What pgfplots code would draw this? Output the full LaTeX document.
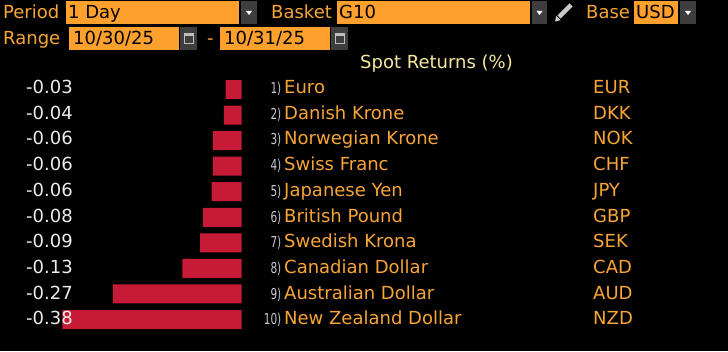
\documentclass[border=0pt]{standalone}
\usepackage{pgfplots}
\pgfplotsset{compat=1.18}
\usepackage{fontspec}
\setmainfont{DejaVu Sans}
\newfontfamily\condfont{DejaVu Sans}[FakeStretch=0.7]
\definecolor{bbBox}{RGB}{253,160,45}
\definecolor{bbText}{RGB}{247,165,55}
\definecolor{bbVal}{RGB}{236,236,236}
\definecolor{bbIdx}{RGB}{200,200,210}
\definecolor{bbTitle}{RGB}{246,232,160}
\definecolor{bbBar}{RGB}{198,26,54}
\definecolor{bbDrop}{RGB}{62,62,62}
\begin{document}
\begin{tikzpicture}
\path[use as bounding box] (0,0) rectangle (728pt,351pt);
\fill[black] (0,0) rectangle (728pt,351pt);
\begin{axis}[
  at={(0,0)}, anchor=south west,
  scale only axis, width=728pt, height=351pt,
  xmin=-0.5123, xmax=1.0307,
  ymin=-2.502, ymax=11.232, y dir=reverse,
  hide axis, clip=false]
\addplot[xbar, fill=bbBar, draw=none, bar width=0.7435] coordinates {
(-0.034,1) (-0.038,2) (-0.061,3) (-0.061,4) (-0.064,5)
(-0.082,6) (-0.088,7) (-0.126,8) (-0.273,9) (-0.380,10)};
\end{axis}
\begin{scope}[x=1pt,y=-1pt,yshift=351pt,every node/.style={inner sep=0pt,font=\fontsize{18}{20}\selectfont}]
% top row
\node[anchor=base west,text=bbText] at (3,18.5) {Period};
\fill[bbBox] (66,1) rectangle (239,24);
\node[anchor=base west,text=black] at (68,18.5) {1 Day};
\fill[bbDrop] (241,1) rectangle (257,24);
\fill[white] (246,11) -- (252,11) -- (249,15) -- cycle;
\node[anchor=base west,text=bbText] at (271,18.5) {Basket};
\fill[bbBox] (337,1) rectangle (530,24);
\node[anchor=base west,text=black] at (339,18.5) {G10};
\fill[bbDrop] (532,1) rectangle (547,24);
\fill[white] (536.5,11) -- (542.5,11) -- (539.5,15) -- cycle;
\draw[line width=4.5pt,color=lightgray!85!white] (559,17) -- (571,5);
\fill[lightgray!85!white] (555,21.5) -- (556.2,15.8) -- (560.6,20.2) -- cycle;
\node[anchor=base west,text=bbText] at (586,18.5) {Base};
\fill[bbBox] (634,1) rectangle (678,24);
\node[anchor=base west,text=black] at (636,18.5) {USD};
\fill[bbDrop] (680,1) rectangle (696,24);
\fill[white] (685,11) -- (691,11) -- (688,15) -- cycle;
% second row
\node[anchor=base west,text=bbText] at (3,45) {Range};
\fill[bbBox] (69,27) rectangle (179,50);
\node[anchor=base west,text=black] at (73,45) {10/30/25};
\fill[bbDrop] (180,27) rectangle (197,50);
\draw[lightgray,line width=1pt] (184,33.5) rectangle (193,44);
\fill[lightgray] (184,33.5) rectangle (193,36.5);
\node[anchor=base west,text=bbText] at (207,45) {-};
\fill[bbBox] (220,27) rectangle (330,50);
\node[anchor=base west,text=black] at (224,45) {10/31/25};
\fill[bbDrop] (331,27) rectangle (348,50);
\draw[lightgray,line width=1pt] (335,33.5) rectangle (344,44);
\fill[lightgray] (335,33.5) rectangle (344,36.5);
% title
\node[anchor=base west,text=bbTitle] at (360,69) {Spot Returns (\%)};
% rows
\foreach \i/\v/\n/\c in {1/-0.03/Euro/EUR,2/-0.04/Danish Krone/DKK,3/-0.06/Norwegian Krone/NOK,4/-0.06/Swiss Franc/CHF,5/-0.06/Japanese Yen/JPY,6/-0.08/British Pound/GBP,7/-0.09/Swedish Krona/SEK,8/-0.13/Canadian Dollar/CAD,9/-0.27/Australian Dollar/AUD,10/-0.38/New Zealand Dollar/NZD}{
  \pgfmathsetmacro\yb{93.5+(\i-1)*25.72}
  \node[anchor=base east,text=bbVal] at (73,\yb) {\v};
  \node[anchor=base east,text=bbIdx,font=\condfont\fontsize{15}{16}\selectfont] at (281.5,\yb) {\i)};
  \node[anchor=base west,text=bbText] at (284,\yb) {\n};
  \node[anchor=base west,text=bbText] at (593,\yb) {\c};
}
\end{scope}
\end{tikzpicture}
\end{document}
